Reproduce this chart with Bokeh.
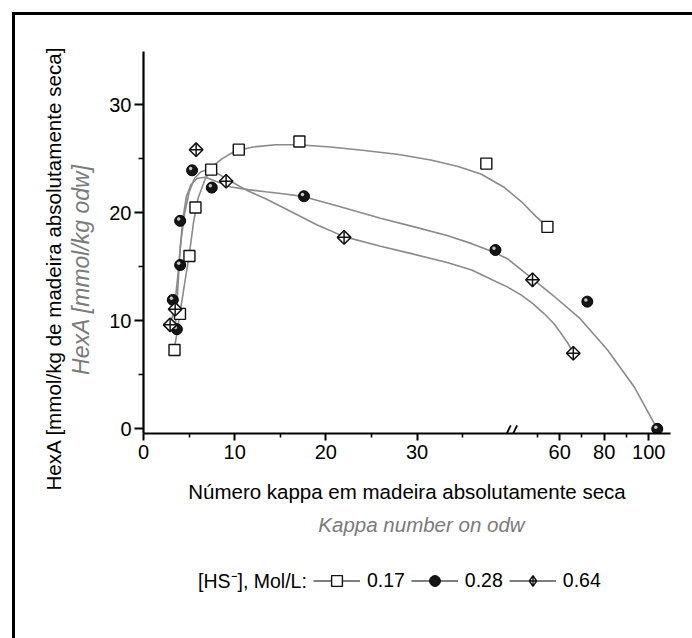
import numpy as np
from bokeh.plotting import figure
from bokeh.layouts import column, row
from bokeh.models import (Range1d, FixedTicker, CustomJSTickFormatter, Legend, LegendItem, Label)
from bokeh.embed import file_html
from bokeh.resources import INLINE

# ---------------- data (kappa number, HexA mmol/kg) ----------------
kappa_017 = [3.4, 4.0, 5.04, 5.7, 7.42, 10.45, 17.1, 37.6, 54.5]
hexa_017 = [7.3, 10.65, 16.0, 20.5, 24.0, 25.85, 26.6, 24.56, 18.7]

kappa_028 = [3.22, 3.66, 4.02, 4.02, 5.33, 7.49, 17.6, 38.6, 72.4, 103.8]
hexa_028 = [11.94, 9.23, 15.17, 19.26, 23.94, 22.34, 21.54, 16.56, 11.78, 0.0]

kappa_064 = [2.92, 3.47, 5.77, 9.06, 22.0, 47.8, 66.1]
hexa_064 = [9.63, 11.08, 25.85, 22.93, 17.73, 13.8, 7.0]

# fitted curves
fit_kappa_017 = [3.35, 3.7, 4.0, 4.5, 5.0, 5.5, 6.0, 6.8, 7.6, 8.6, 10.0, 12.0, 14.5, 17.0,
                 20.5, 24.0, 28.0, 31.5, 34.5, 37.0, 39.5, 43.0, 49.2, 54.5]
fit_hexa_017 = [7.3, 9.0, 10.7, 13.4, 16.0, 19.2, 21.4, 23.2, 24.3, 25.0, 25.7, 26.1, 26.3, 26.3,
                26.1, 25.8, 25.4, 24.9, 24.3, 23.6, 22.4, 21.0, 19.7, 18.7]

fit_kappa_028 = [3.45, 3.6, 3.8, 4.0, 4.3, 4.7, 5.2, 5.9, 6.8, 8.0, 9.6, 11.5, 13.4, 15.5, 17.6,
                 21.0, 26.0, 29.7, 33.3, 36.0, 38.6, 40.0, 47.74, 57.35, 69.2, 81.5, 93.4, 103.8]
fit_hexa_028 = [8.8, 10.8, 13.5, 16.5, 19.3, 21.5, 22.6, 23.2, 23.3, 22.9, 22.4, 22.15, 21.95, 21.75,
                21.5, 20.7, 19.5, 18.7, 17.9, 17.15, 16.3, 15.7, 13.9, 12.3, 10.2, 7.3, 3.9, 0.0]

fit_kappa_064 = [2.92, 3.2, 3.5, 3.8, 4.1, 4.5, 5.0, 5.6, 6.3, 7.0, 7.8, 8.6, 9.6, 11.3, 13.4, 16.0,
                 19.0, 22.0, 26.0, 29.5, 33.3, 36.0, 38.0, 40.0, 42.62, 47.94, 52.85, 57.35, 60.42,
                 63.49, 66.1]
fit_hexa_064 = [9.6, 10.5, 12.0, 14.5, 17.3, 19.9, 21.9, 23.2, 23.8, 24.0, 23.8, 23.4, 22.9, 22.1,
                21.3, 20.2, 18.9, 17.8, 16.9, 16.2, 15.4, 14.7, 13.9, 13.1, 12.4, 11.6, 10.7, 9.75,
                8.9, 8.0, 7.0]

x_major = [0, 10, 20, 30, 60, 80, 100]
x_minor = [5, 15, 25, 35, 50, 70, 90]
y_major = [0, 10, 20, 30]
y_minor = [5, 15, 25]
break_at = [40.0]

series_names = ["0.17", "0.28", "0.64"]
legend_prefix = "[HS\u207b], Mol/L:"
y_title = "HexA [mmol/kg de madeira absolutamente seca]"
y_title_en = "HexA [mmol/kg odw]"
x_title = "Número kappa em madeira absolutamente seca"
x_title_en = "Kappa number on odw"

# ---------------- broken x axis: 0-40 linear, then compressed ----------------
BREAK_V, BREAK_U, COMP = 40.0, 40.76, 0.2443


def to_u(v):
    v = np.asarray(v, dtype=float)
    return np.where(v <= BREAK_V, v, BREAK_U + (v - BREAK_V) * COMP)


FONT = "Liberation Sans"
GRAY_TXT = "#7a7a7a"
CURVE = "#8a8a8a"

TOTAL_W, TOTAL_H = 692, 638
LEFT_W = 105                      # strip holding the frame border and the two y titles
MAIN_W, MAIN_H = TOTAL_W - LEFT_W, 505
LEG_H = TOTAL_H - MAIN_H          # strip holding the English x title and the legend
FRAME_L, FRAME_R = 143, 670

# ---------------- main plot ----------------
X0, X1 = 0.0, 57.8
Y0, Y1 = -0.43, 34.94
p = figure(width=MAIN_W, height=MAIN_H, output_backend="svg", toolbar_location=None,
           x_range=Range1d(X0, X1), y_range=Range1d(Y0, Y1),
           min_border_left=FRAME_L - LEFT_W, min_border_right=TOTAL_W - FRAME_R,
           min_border_top=51, min_border_bottom=MAIN_H - 434)
p.border_fill_color = None
p.background_fill_color = "white"
p.outline_line_color = None
p.grid.visible = False
p.styles = {"box-shadow": "inset 0 12px 0 0 white, inset 0 15px 0 0 black",
            "background-color": "white"}

for ax in (p.xaxis[0], p.yaxis[0]):
    ax.axis_line_width = 2.2
    ax.axis_line_color = "black"
    ax.major_tick_line_width = 2
    ax.minor_tick_line_width = 1.6
    ax.major_tick_in = 0
    ax.minor_tick_in = 0
    ax.major_label_text_font = FONT
    ax.major_label_text_font_size = "20px"
    ax.major_label_text_color = "black"

p.xaxis[0].ticker = FixedTicker(ticks=list(to_u(x_major)), minor_ticks=list(to_u(x_minor)))
p.xaxis[0].formatter = CustomJSTickFormatter(code="""
if (tick <= 40.3) { return tick.toFixed(0); }
const v = 40 + (tick - 40.76) / 0.2443;
return Math.round(v).toString();
""")
p.xaxis[0].major_tick_out = 7
p.xaxis[0].minor_tick_out = 4
p.xaxis[0].major_label_standoff = 4
p.xaxis[0].axis_label = x_title
p.xaxis[0].axis_label_standoff = 18
p.xaxis[0].axis_label_text_font = FONT
p.xaxis[0].axis_label_text_font_size = "20.5px"
p.xaxis[0].axis_label_text_font_style = "normal"
p.xaxis[0].axis_label_text_color = "black"

p.yaxis[0].ticker = FixedTicker(ticks=y_major, minor_ticks=y_minor)
p.yaxis[0].major_tick_out = 9
p.yaxis[0].minor_tick_out = 5
p.yaxis[0].major_label_standoff = 3

p.line(to_u(fit_kappa_017), fit_hexa_017, line_color=CURVE, line_width=1.6)
p.line(to_u(fit_kappa_028), fit_hexa_028, line_color=CURVE, line_width=1.6)
p.line(to_u(fit_kappa_064), fit_hexa_064, line_color=CURVE, line_width=1.6)

SQ = dict(marker="square", size=11, fill_color="white", line_color="#111111", line_width=1.4)
CI = dict(marker="circle", size=11, fill_color="#151515", line_color="black", line_width=1)
HI = dict(marker="circle", size=3.5, fill_color="#c8c8c8", line_color=None)
DI = dict(marker="square", angle=np.pi / 4, size=9.6, fill_color="white",
          line_color="#111111", line_width=1.5)
CR = dict(marker="cross", size=13.5, line_color="#111111", line_width=1.5)
DL = dict(marker="diamond_cross", size=15, fill_color="white",
          line_color="#111111", line_width=1.4)

p.scatter(to_u(kappa_017), hexa_017, **SQ)
u28 = to_u(kappa_028)
p.scatter(u28, hexa_028, **CI)
p.scatter(u28 - 0.16, np.asarray(hexa_028) + 0.16, **HI)
u64 = to_u(kappa_064)
p.scatter(u64, hexa_064, **DI)
p.scatter(u64, hexa_064, **CR)

# axis break marks "//" (upper part, inside the plotting area)
bu = float(to_u(break_at)[0]) + 0.38
for off in (-0.35, 0.35):
    p.segment(x0=[bu + off - 0.25], y0=[Y0 - 0.1], x1=[bu + off + 0.25], y1=[Y0 + 0.75],
              line_color="black", line_width=1.8)

# ---------------- left strip (full height): border and y titles ----------------
lt = figure(width=LEFT_W, height=TOTAL_H, output_backend="svg", toolbar_location=None,
            x_range=Range1d(0, LEFT_W), y_range=Range1d(0, TOTAL_H),
            x_axis_type=None, y_axis_type=None,
            min_border_left=0, min_border_right=0, min_border_top=0, min_border_bottom=0)
lt.grid.visible = False
lt.outline_line_color = None
lt.background_fill_color = None
lt.border_fill_color = None
lt.styles = {"box-shadow": "inset 12px 12px 0 0 white, inset 15px 15px 0 0 black",
             "background-color": "white"}
lt.add_layout(Label(x=53, y=TOTAL_H - 268, text=y_title, angle=np.pi / 2,
                    text_align="center", text_baseline="middle",
                    text_font=FONT, text_font_size="20.6px", text_color="black"))
lt.add_layout(Label(x=80, y=TOTAL_H - 269, text=y_title_en, angle=np.pi / 2,
                    text_align="center", text_baseline="middle",
                    text_font=FONT, text_font_size="23px", text_font_style="italic",
                    text_color=GRAY_TXT))

# ---------------- bottom strip: English x title and legend ----------------
# (its frame lines up with the main plot frame, so x runs in page pixels FRAME_L..FRAME_R)
lf = figure(width=MAIN_W, height=LEG_H, output_backend="svg", toolbar_location=None,
            x_range=Range1d(FRAME_L, FRAME_R), y_range=Range1d(0, LEG_H),
            x_axis_type=None, y_axis_type=None,
            min_border_left=0, min_border_right=0, min_border_top=0, min_border_bottom=0)
lf.grid.visible = False
lf.outline_line_color = None
lf.background_fill_color = None
lf.border_fill_color = None
lf.styles = {"background-color": "white"}
lf.add_layout(Label(x=421, y=LEG_H - (524 - MAIN_H), text=x_title_en,
                    text_align="center", text_baseline="middle",
                    text_font=FONT, text_font_size="20.5px", text_font_style="italic",
                    text_color=GRAY_TXT))

# legend sample renderers: one point each, placed outside the visible range
OFF = [-500.0]
ph = lf.scatter(OFF, OFF, marker="square", size=1, fill_alpha=0, line_alpha=0)
g17 = [lf.line(OFF, OFF, line_color="#555555", line_width=1.5), lf.scatter(OFF, OFF, **SQ)]
g28 = [lf.line(OFF, OFF, line_color="#555555", line_width=1.5), lf.scatter(OFF, OFF, **CI)]
g64 = [lf.line(OFF, OFF, line_color="#555555", line_width=1.5), lf.scatter(OFF, OFF, **DL)]

legend = Legend(items=[
    LegendItem(label=legend_prefix, renderers=[ph]),
    LegendItem(label=series_names[0], renderers=g17),
    LegendItem(label=series_names[1], renderers=g28),
    LegendItem(label=series_names[2], renderers=g64),
], orientation="horizontal", location=(1, 44),
    glyph_width=47, glyph_height=27, label_standoff=7, spacing=6,
    padding=0, margin=0, border_line_color=None, background_fill_alpha=0,
    label_text_font=FONT, label_text_font_size="19.5px", label_text_color="black")
lf.add_layout(legend, "center")

layout = row(lt, column(p, lf, spacing=0), spacing=0)
open("out.html", "w").write(file_html(layout, INLINE))
